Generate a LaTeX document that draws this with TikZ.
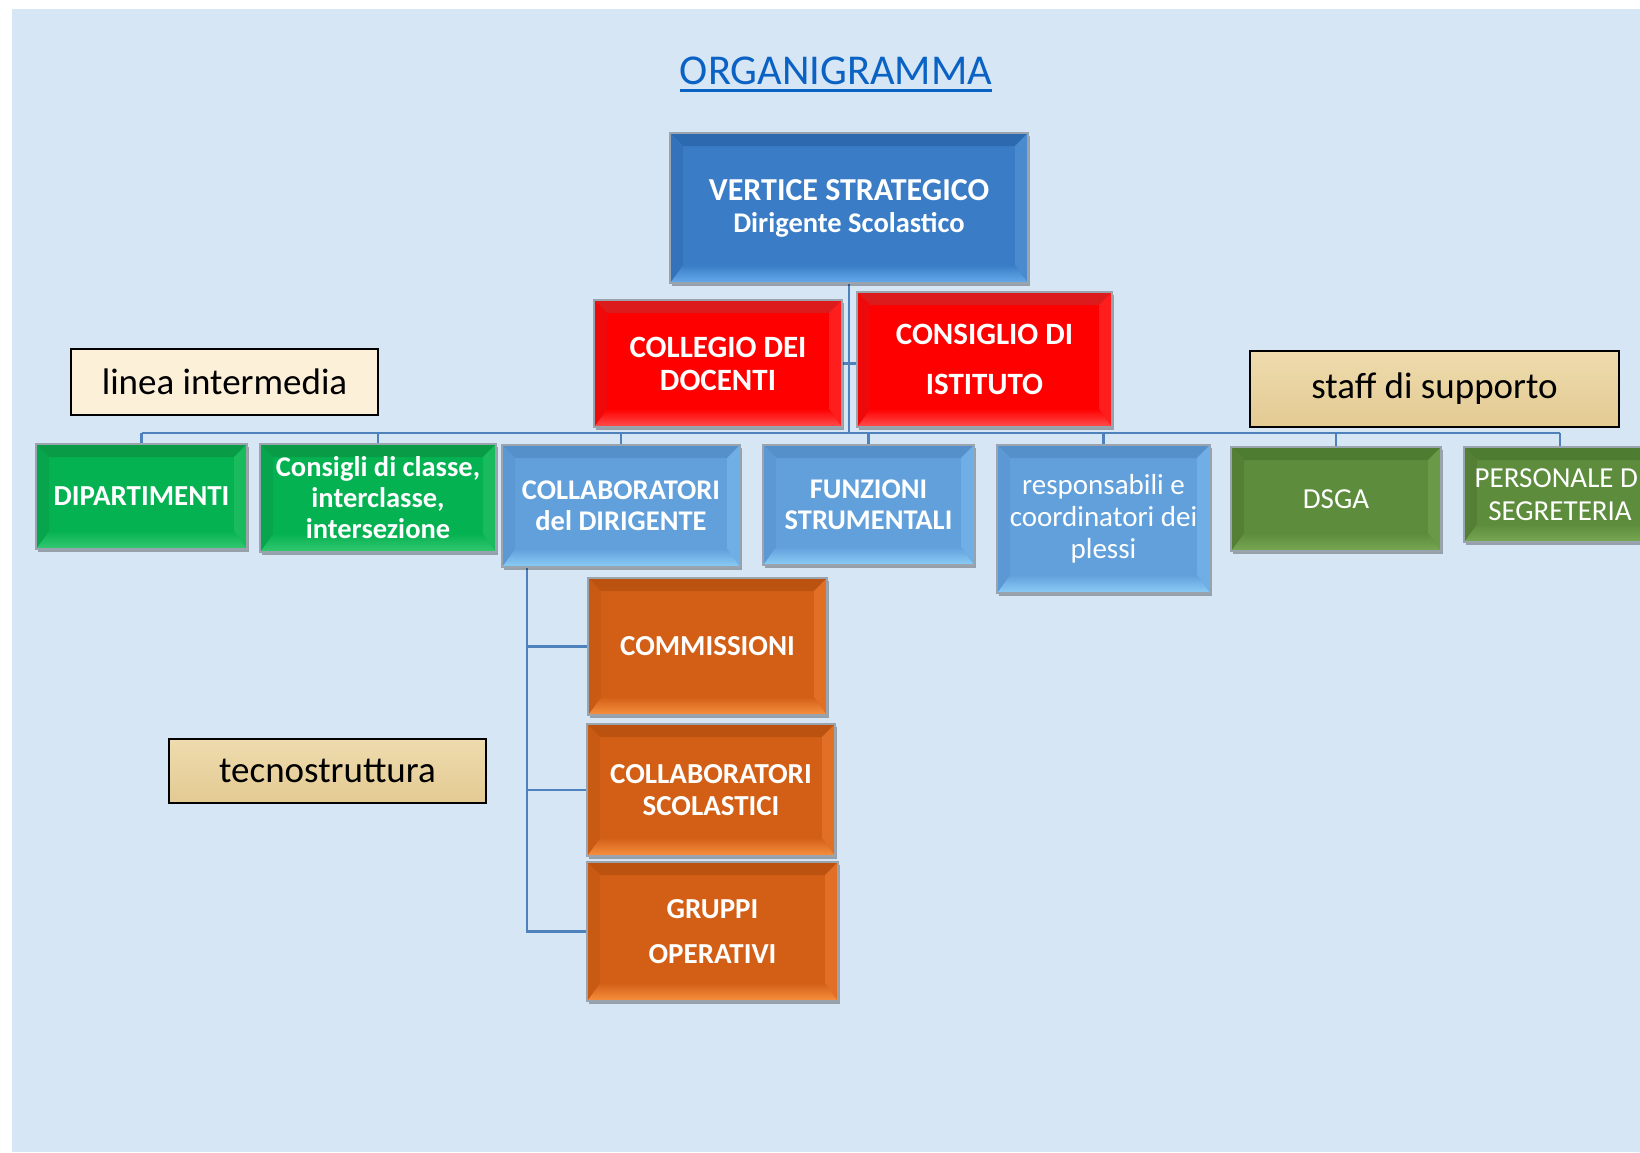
\documentclass[tikz,border=0pt]{standalone}
\usepackage{fontspec}
\setmainfont{Carlito}
\usetikzlibrary{shadows}

\definecolor{bgblue}{HTML}{D7E6F5}
\definecolor{conncol}{HTML}{4F81BD}
\definecolor{titleblue}{HTML}{0A62C4}
\definecolor{bordgray}{HTML}{9AA4AE}
\definecolor{cream}{HTML}{FCF0D8}
\definecolor{papytop}{HTML}{EEDBAE}
\definecolor{papybot}{HTML}{E3CA92}
% bevel colour sets
\definecolor{bvface}{HTML}{3A7DC6}\definecolor{bvtop}{HTML}{2D69AE}\definecolor{bvleft}{HTML}{3473BB}\definecolor{bvright}{HTML}{4A8BD0}\definecolor{bvbot}{HTML}{66ABEB}
\definecolor{rdface}{HTML}{FF0000}\definecolor{rdtop}{HTML}{DC1C1C}\definecolor{rdleft}{HTML}{EE0A0A}\definecolor{rdright}{HTML}{FF1E1E}\definecolor{rdbot}{HTML}{FF5050}
\definecolor{gnface}{HTML}{05B252}\definecolor{gntop}{HTML}{0A9B47}\definecolor{gnleft}{HTML}{07A54D}\definecolor{gnright}{HTML}{1ABB5D}\definecolor{gnbot}{HTML}{35C870}
\definecolor{lbface}{HTML}{62A0DC}\definecolor{lbtop}{HTML}{5690CB}\definecolor{lbleft}{HTML}{5B98D4}\definecolor{lbright}{HTML}{70AEE6}\definecolor{lbbot}{HTML}{8BCDF7}
\definecolor{olface}{HTML}{5D8D3C}\definecolor{oltop}{HTML}{4E7C30}\definecolor{olleft}{HTML}{567F36}\definecolor{olright}{HTML}{6A9A47}\definecolor{olbot}{HTML}{78A853}
\definecolor{orface}{HTML}{D35F17}\definecolor{ortop}{HTML}{BB5210}\definecolor{orleft}{HTML}{C95A14}\definecolor{orright}{HTML}{E26F26}\definecolor{orbot}{HTML}{F7913F}

\newcommand\fs[2]{\fontsize{#1}{#2}\selectfont}
\newcommand\bevs{13pt}
\newcommand\bevt{13pt}
\newcommand\bevb{18pt}

\pgfdeclarelayer{bg}
\pgfdeclarelayer{conn}
\pgfsetlayers{bg,conn,main}

\tikzset{
 bev/.style={fill=#1face, draw=bordgray, line width=1.6pt, text=white, align=center, inner sep=0pt,
  drop shadow={shadow xshift=2pt,shadow yshift=-2.5pt,fill=black,opacity=0.3},
  path picture={
   \path (path picture bounding box.north west) coordinate (pa)
         (path picture bounding box.north east) coordinate (pb)
         (path picture bounding box.south east) coordinate (pc)
         (path picture bounding box.south west) coordinate (pd);
   \fill[#1top] (pa) -- (pb) -- ([shift={(-\bevs,-\bevt)}]pb) -- ([shift={(\bevs,-\bevt)}]pa) -- cycle;
   \fill[#1right] (pb) -- (pc) -- ([shift={(-\bevs,\bevb)}]pc) -- ([shift={(-\bevs,-\bevt)}]pb) -- cycle;
   \shade[top color=#1face, bottom color=#1bot] (pc) -- (pd) -- ([shift={(\bevs,\bevb)}]pd) -- ([shift={(-\bevs,\bevb)}]pc) -- cycle;
   \fill[#1left] (pd) -- (pa) -- ([shift={(\bevs,-\bevt)}]pa) -- ([shift={(\bevs,\bevb)}]pd) -- cycle;
  }},
 conn/.style={draw=conncol, line width=2.6pt},
 lab/.style={draw=black, line width=2pt, text=black, font=\fs{37}{40}, inner sep=0pt},
 bb/.style={font=\bfseries\fs{#1}{31}},
}

\begin{document}
\begin{tikzpicture}[x=1pt,y=-1pt]
\useasboundingbox (0,0) rectangle (1640,1152);
\begin{pgfonlayer}{bg}
\fill[white] (0,0) rectangle (1640,1152);
\fill[bgblue] (12,9) rectangle (1640,1152);
\end{pgfonlayer}
\clip (0,0) rectangle (1640,1152);

% title
\node[font=\fs{42.5}{50}, text=titleblue, inner sep=0pt, anchor=base] (title) at (836,84) {ORGANIGRAMMA};
\draw[titleblue, line width=3pt] ([yshift=-6pt]title.base west) -- ([yshift=-6pt]title.base east);

% top
\node[bev=bv, minimum width=358pt, minimum height=150pt, font=\bfseries\fs{32}{32}] (vs) at (849,208)
  {VERTICE STRATEGICO\\\fs{28.5}{32}Dirigente Scolastico};
\node[bev=rd, minimum width=248pt, minimum height=127pt, font=\bfseries\fs{31}{33}] (col) at (718,363.5) {COLLEGIO DEI\\DOCENTI};
\node[bev=rd, minimum width=255pt, minimum height=135pt, font=\bfseries\fs{31}{50}] (cons) at (984.5,359.5) {CONSIGLIO DI\\ISTITUTO};

% level 2
\node[bev=gn, minimum width=211pt, minimum height=105pt, bb=29] (dip) at (141.5,496.5) {DIPARTIMENTI};
\node[bev=gn, minimum width=236pt, minimum height=108pt, bb=28.5] (cdc) at (378,498) {Consigli di classe,\\interclasse,\\intersezione};
\node[bev=lb, minimum width=238pt, minimum height=122pt, bb=28.5] (cd) at (621,506) {COLLABORATORI\\del DIRIGENTE};
\node[bev=lb, minimum width=211pt, minimum height=120pt, bb=28.5] (fs) at (868.5,505) {FUNZIONI\\STRUMENTALI};
\node[bev=lb, minimum width=213pt, minimum height=148pt, font=\fs{29}{32}] (resp) at (1103.5,519) {responsabili e\\coordinatori dei\\plessi};
\node[bev=ol, minimum width=210pt, minimum height=104pt, font=\fs{29}{32}] (dsga) at (1336,499) {DSGA};
\node[bev=ol, minimum width=192pt, minimum height=95pt, font=\fs{29}{33}] (pers) at (1560,494.5) {PERSONALE DI\\SEGRETERIA};

% orange
\node[bev=or, minimum width=239pt, minimum height=137pt, font=\bfseries\fs{29}{32}] (com) at (707.5,646.5) {COMMISSIONI};
\node[bev=or, minimum width=248pt, minimum height=132pt, font=\bfseries\fs{29}{32}] (cs) at (711,790) {COLLABORATORI\\SCOLASTICI};
\node[bev=or, minimum width=251pt, minimum height=139pt, font=\bfseries\fs{29}{45}] (grp) at (712.5,931.5) {GRUPPI\\OPERATIVI};

% labels
\node[lab, fill=cream, minimum width=307pt, minimum height=66pt] (linea) at (224.5,382) {linea intermedia};
\node[lab, top color=papytop, bottom color=papybot, minimum width=369pt, minimum height=76pt] (staff) at (1434.5,389) {staff di supporto};
\node[lab, top color=papytop, bottom color=papybot, minimum width=317pt, minimum height=64pt] (tecno) at (327.5,771) {tecnostruttura};

% connectors
\coordinate (busL) at (141.5,433);
\coordinate (busR) at (1560,433);
\coordinate (trunk) at (527,567);
\begin{pgfonlayer}{conn}
\draw[conn] (vs.south) -- (vs.south |- busL);
\draw[conn] (busL) -- (busR);
\foreach \n in {dip,cdc,cd,fs,resp,dsga,pers} \draw[conn] (\n.north) -- (\n.north |- busL);
\draw[conn] (col.east) -- (col.east -| cons.west);
\draw[conn] (trunk) |- (grp.west);
\draw[conn] (com.west) -- (com.west -| trunk);
\draw[conn] (cs.west) -- (cs.west -| trunk);
\end{pgfonlayer}
\end{tikzpicture}
\end{document}
